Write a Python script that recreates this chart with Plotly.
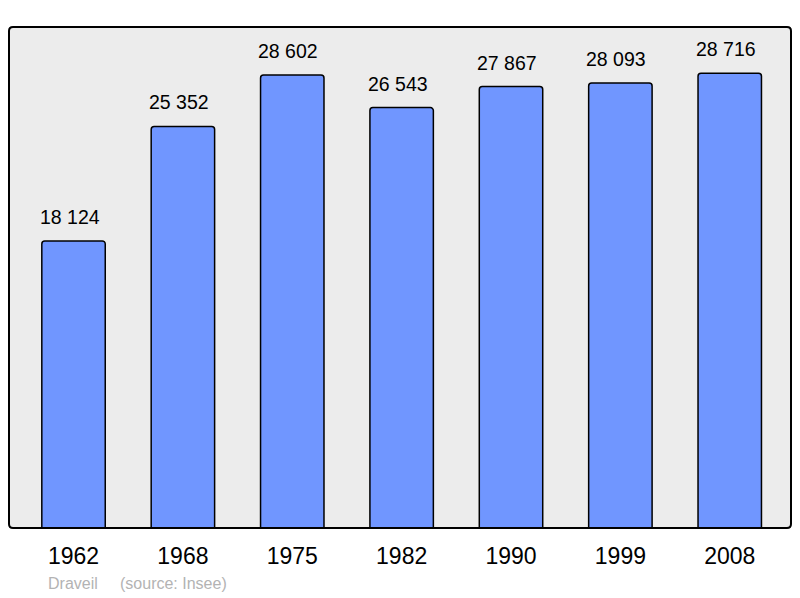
import plotly.graph_objects as go

years = ["1962", "1968", "1975", "1982", "1990", "1999", "2008"]
population = [18124, 25352, 28602, 26543, 27867, 28093, 28716]
labels = ["18 124", "25 352", "28 602", "26 543", "27 867", "28 093", "28 716"]
commune = "Draveil"
source = "(source: Insee)"

W, H = 800, 598
ML, MR, MT, MB = 9, 9, 27, 70
PW, PH = W - ML - MR, H - MT - MB
FONT = "Liberation Sans, Arial, sans-serif"

fig = go.Figure()
fig.add_trace(go.Bar(
    x=years, y=population,
    width=0.58,
    marker=dict(color="#7096ff", line=dict(color="black", width=1.5), cornerradius=3),
    hoverinfo="skip",
))

for i, (v, lab) in enumerate(zip(population, labels)):
    fig.add_annotation(x=i, y=v, text=lab, showarrow=False, yanchor="bottom", yshift=11,
                       xshift=-4, font=dict(family=FONT, size=19.5, color="black"))

fig.add_annotation(xref="paper", yref="paper", x=(46 - ML) / PW, y=-(583 - MT - PH) / PH,
                   xanchor="left", yanchor="middle", text=commune, showarrow=False,
                   font=dict(family=FONT, size=16, color="#b3b3b3"))
fig.add_annotation(xref="paper", yref="paper", x=(118 - ML) / PW, y=-(583 - MT - PH) / PH,
                   xanchor="left", yanchor="middle", text=source, showarrow=False,
                   font=dict(family=FONT, size=16, color="#b3b3b3"))

# rounded frame
rx, ry = 4 / PW, 4 / PH
path = (f"M {rx},0 L {1-rx},0 Q 1,0 1,{ry} L 1,{1-ry} Q 1,1 {1-rx},1 "
        f"L {rx},1 Q 0,1 0,{1-ry} L 0,{ry} Q 0,0 {rx},0 Z")
fig.add_shape(type="path", path=path, xref="paper", yref="paper",
              line=dict(color="black", width=2), layer="above")

fig.update_layout(
    width=W, height=H,
    margin=dict(l=ML, r=MR, t=MT, b=MB),
    paper_bgcolor="white",
    plot_bgcolor="#ececec",
    showlegend=False,
    xaxis=dict(type="category", range=[-0.59, 6.56], showgrid=False, zeroline=False,
               ticks="outside", ticklen=7, tickcolor="rgba(0,0,0,0)",
               tickfont=dict(family=FONT, size=23, color="black")),
    yaxis=dict(range=[0, 31630], showgrid=False, zeroline=False, showticklabels=False),
)

fig.write_html("out.html", config={"displayModeBar": False},
               post_script="document.body.style.margin='0px';")
